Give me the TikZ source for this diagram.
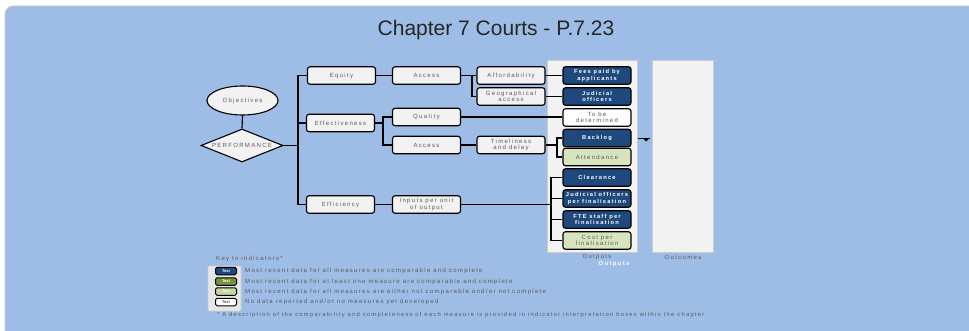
\documentclass[tikz,border=0pt]{standalone}
\usepackage{fontspec}
\setmainfont{Liberation Sans}
\newfontfamily\lsfont[LetterSpace=22]{Liberation Sans}
\usetikzlibrary{shapes.geometric}
\definecolor{bgblue}{RGB}{157,189,230}
\definecolor{boxgrey}{RGB}{242,242,242}
\definecolor{darkblue}{RGB}{31,73,125}
\definecolor{lightgreen}{RGB}{215,228,189}
\definecolor{midgreen}{RGB}{119,147,60}
\definecolor{keygreen}{RGB}{195,214,155}
\definecolor{txtgrey}{RGB}{89,89,89}
\definecolor{edgegrey}{RGB}{205,205,205}
\begin{document}
\begin{tikzpicture}[x=1pt,y=-1pt,
  smalltxt/.style={font=\fontsize{6}{6.4}\selectfont\lsfont},
  box/.style={draw=black, line width=1.1pt, rounded corners=2.5pt, fill=boxgrey,
    minimum width=68pt, minimum height=17.5pt, inner sep=0pt, align=center,
    smalltxt, text=txtgrey},
  darkbox/.style={box, fill=darkblue, text=white, font=\fontsize{5.7}{6.3}\selectfont\lsfont\bfseries},
  greenbox/.style={box, fill=lightgreen},
  whitebox/.style={box, fill=white},
  keybox/.style={draw=black, line width=1pt, rounded corners=1.5pt, minimum width=21pt,
    minimum height=7.5pt, inner sep=0pt, font=\fontsize{4}{4}\selectfont\bfseries, text=white},
  keytxt/.style={anchor=west, inner sep=0pt, smalltxt, text=txtgrey},
  conn/.style={draw=black, line width=1.2pt},
  panel/.style={fill=boxgrey, draw=edgegrey, line width=0.4pt}]
\useasboundingbox (0,0) rectangle (969,331);
\fill[white] (0,0) rectangle (969,331);
\filldraw[fill=bgblue, draw=edgegrey, line width=0.8pt, rounded corners=8pt] (5,6) rectangle (990,350);

\node[font=\fontsize{21}{23}\selectfont, text=black!85] (title) at (496,30.5) {Chapter 7 Courts - P.7.23};

% panels
\path[panel] (547,60) rectangle (637,252);
\path[panel] (652,60) rectangle (713,252);
\node[smalltxt, text=txtgrey] (outlbl) at (597,257.5) {Outputs};
\node[smalltxt, text=white, font=\fontsize{6}{6.4}\selectfont\lsfont\bfseries] (outlbl2) at (614,264) {Outputs};
\node[smalltxt, text=txtgrey] (outclbl) at (683,257.5) {Outcomes};

% left part
\node[draw=black, line width=1.1pt, fill=boxgrey, ellipse, minimum width=71pt, minimum height=29pt,
  inner sep=0pt, smalltxt, text=txtgrey] (obj) at (242.5,100.5) {Objectives};
\node[draw=black, line width=1.1pt, fill=boxgrey, diamond, aspect=2.5, minimum width=82pt, minimum height=33pt,
  inner sep=0pt, smalltxt, text=txtgrey] (perf) at (242,145.5) {PERFORMANCE};

\node[box] (equity) at (341.5,75.5) {Equity};
\node[box] (eff) at (340.5,123) {Effectiveness};
\node[box] (effy) at (340.5,204.5) {Efficiency};

\node[box] (acc1) at (426.5,75.5) {Access};
\node[box] (qual) at (426.5,117) {Quality};
\node[box] (acc2) at (426.5,145) {Access};
\node[box] (inputs) at (426.5,204.5) {Inputs per unit\\of output};

\node[box] (afford) at (511,75.5) {Affordability};
\node[box] (geo) at (511,96.5) {Geographical\\access};
\node[box] (time) at (511,145) {Timeliness\\and delay};

\node[darkbox] (fees) at (597,75.5) {Fees paid by\\applicants};
\node[darkbox] (judic) at (597,96.5) {Judicial\\officers};
\node[whitebox] (tbd) at (597,117.5) {To be\\determined};
\node[darkbox] (backlog) at (597,138) {Backlog};
\node[greenbox] (attend) at (597,157) {Attendance};
\node[darkbox] (clear) at (597,177.5) {Clearance};
\node[darkbox] (jpf) at (597,198.5) {Judicial officers\\per finalisation};
\node[darkbox] (fte) at (597,219.5) {FTE staff per\\finalisation};
\node[greenbox] (cost) at (597,240.5) {Cost per\\finalisation};

% junction coordinates
\coordinate (j1) at (298,145.5);
\coordinate (j3) at (383,123);
\coordinate (j2) at (472,75.5);
\coordinate (j4) at (557,145);
\coordinate (j5) at (551,204.5);

% connectors
\draw[conn] (obj.south) -- (perf.north);
\draw[conn] (perf.east) -- (j1);
\draw[conn] (j1) |- (equity.west);
\draw[conn] (j1) |- (eff.west);
\draw[conn] (j1) |- (effy.west);
\draw[conn] (equity.east) -- (acc1.west);
\draw[conn] (acc1.east) -- (afford.west);
\draw[conn] (j2) |- (geo.west);
\draw[conn] (eff.east) -- (j3);
\draw[conn] (j3) |- (qual.west);
\draw[conn] (j3) |- (acc2.west);
\draw[conn] (qual.east) -- (qual.east -| tbd.west);
\draw[conn] (acc2.east) -- (time.west);
\draw[conn] (time.east) -- (j4);
\draw[conn] (j4) |- (backlog.west);
\draw[conn] (j4) |- (attend.west);
\draw[conn] (afford.east) -- (fees.west);
\draw[conn] (geo.east) -- (judic.west);
\draw[conn] (effy.east) -- (inputs.west);
\draw[conn] (inputs.east) -- (j5);
\draw[conn] (j5) |- (clear.west);
\draw[conn] (j5) |- (jpf.west);
\draw[conn] (j5) |- (fte.west);
\draw[conn] (j5) |- (cost.west);

% small mark between panels
\coordinate (m1) at (638,139);
\coordinate (m2) at (650,139);
\draw[conn, line width=1pt] (m1) -- (m2);
\fill[black] (643.5,139) -- (648.5,139) -- (646,141.5) -- cycle;

% key
\node[smalltxt, text=txtgrey, anchor=west, inner sep=0pt] (keyttl) at (216,258.5) {Key to indicators*};
\path[fill=boxgrey!95!black, draw=edgegrey, line width=0.6pt, rounded corners=1pt] (208,266) rectangle (241,311);
\node[keybox, fill=darkblue] (k1) at (226,271) {Text};
\node[keybox, fill=midgreen] (k2) at (226,281.5) {Text};
\node[keybox, fill=keygreen] (k3) at (226,291.5) {Text};
\node[keybox, fill=white, text=txtgrey] (k4) at (226,302) {Text};
\node[keytxt] (kt1) at (245,271) {Most recent data for all measures are comparable and complete};
\node[keytxt] (kt2) at (245,281.5) {Most recent data for at least one measure are comparable and complete};
\node[keytxt] (kt3) at (245,291.5) {Most recent data for all measures are either not comparable and/or not complete};
\node[keytxt] (kt4) at (245,302) {No data reported and/or no measures yet developed};
\node[keytxt, font=\fontsize{5.8}{6.2}\selectfont\lsfont] (foot) at (217,314.5) {* A description of the comparability and completeness of each measure is provided in indicator interpretation boxes within the chapter};
\end{tikzpicture}
\end{document}
